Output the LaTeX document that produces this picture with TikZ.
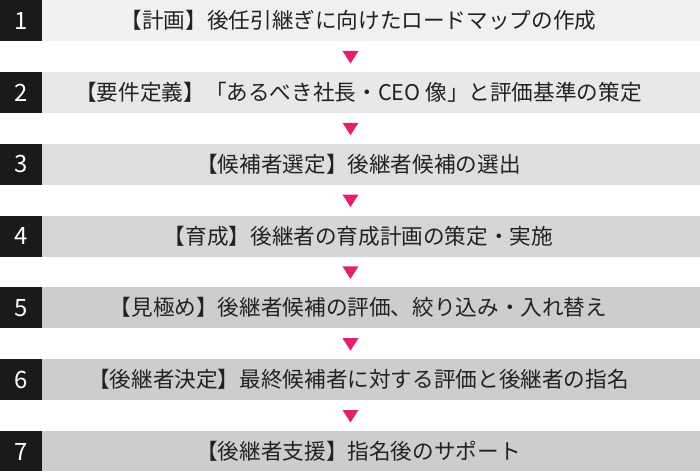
\documentclass[tikz,border=0pt]{standalone}
\usepackage{fontspec}
\setmainfont{Noto Sans CJK JP}
\newfontfamily\jpfont{Noto Sans CJK JP}
\definecolor{numbg}{HTML}{1A1A1A}
\definecolor{tri}{HTML}{E0226E}
\definecolor{barA}{HTML}{F0F0F0}
\definecolor{barB}{HTML}{E8E8E8}
\definecolor{barC}{HTML}{DEDEDE}
\definecolor{barD}{HTML}{D6D6D6}
\definecolor{barE}{HTML}{CDCDCD}
\definecolor{txt}{HTML}{222222}
\tikzset{
  numbox/.style={fill=numbg, draw=none, minimum width=42bp, minimum height=41bp, inner sep=0pt, anchor=north west, text=white, font=\jpfont\fontsize{24}{24}\selectfont},
  barbox/.style={draw=none, minimum width=658bp, minimum height=41bp, inner sep=0pt, anchor=north west},
  label/.style={text=txt, font=\jpfont\fontsize{21.7}{21.7}\selectfont, inner sep=0pt},
  tri/.style={fill=tri, draw=none}
}
\begin{document}
\begin{tikzpicture}[x=1bp,y=-1bp]
\useasboundingbox (0,0) rectangle (700,471);
\foreach \i/\c/\t in {
  1/barA/{【計画】後任引継ぎに向けたロードマップの作成},
  2/barB/{【要件定義】「あるべき社長・CEO 像」と評価基準の策定},
  3/barC/{【候補者選定】後継者候補の選出},
  4/barD/{【育成】後継者の育成計画の策定・実施},
  5/barE/{【見極め】後継者候補の評価、絞り込み・入れ替え},
  6/barE/{【後継者決定】最終候補者に対する評価と後継者の指名},
  7/barE/{【後継者支援】指名後のサポート}}
{
  \pgfmathsetmacro{\top}{71.8*(\i-1)}
  \node[barbox, fill=\c] (bar\i) at (42,\top) {};
  \node[numbox] (num\i) at (0,\top) {\i};
  \node[label] (lab\i) at (358.5,\top+20.5) {\t};
}
\foreach \i in {1,...,6}{
  \pgfmathsetmacro{\ty}{71.8*(\i-1)+51}
  \fill[tri] (342.5,\ty) -- (358.5,\ty) -- (350.5,\ty+12.5) -- cycle;
}
\end{tikzpicture}
\end{document}
